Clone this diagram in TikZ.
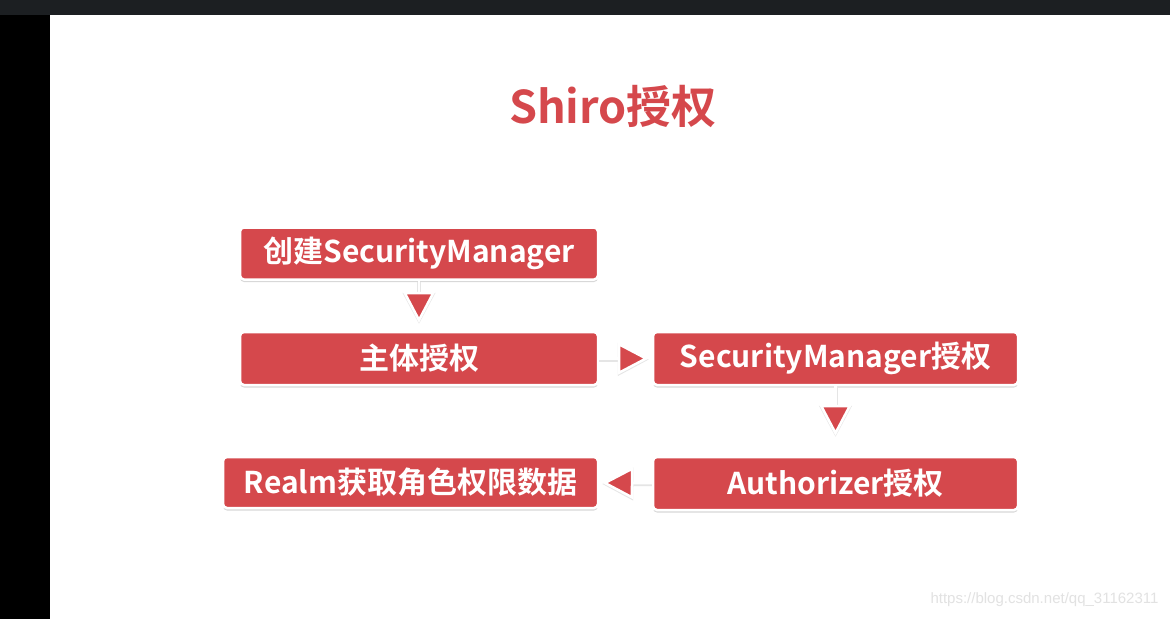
\documentclass[tikz,border=0pt]{standalone}
\usepackage{fontspec}
\setmainfont{Noto Sans CJK SC}[BoldFont={Noto Sans CJK SC Bold}]
\newfontfamily\wmfont{Liberation Sans}
\usepackage{tikz}
\usetikzlibrary{arrows.meta, shadows}
\definecolor{shiroRed}{HTML}{D5484C}
\definecolor{barDark}{HTML}{1C1F22}
\definecolor{wmGray}{HTML}{E2E2E2}
\tikzset{
  stepBox/.style={rectangle, rounded corners=4pt, draw=white, line width=2.5pt,
                  fill=shiroRed, text=white, align=center,
                  font=\bfseries\fontsize{30}{32}\selectfont, inner sep=0pt,
                  drop shadow={shadow xshift=0pt, shadow yshift=-2.5pt, opacity=0.25, fill=black!60}},
  flowArrow/.style={draw=white, line width=2.5pt, shorten >=#1,
                    -{Triangle[length=31pt, width=32pt, fill=shiroRed, line width=2.5pt]},
                    preaction={draw=black!10, line width=4pt, transform canvas={yshift=-1pt}, shorten >=#1,
                               -{Triangle[length=31pt, width=32pt, fill=black!12, line width=4pt]}}},
}
\begin{document}
\begin{tikzpicture}[x=1pt, y=-1pt]
    %% Rahmen: Bildschirm-Kanten
    \fill[white] (0,0) rectangle (1170,619);
    \fill[barDark] (0,0) rectangle (1170,15);
    \fill[black] (0,15) rectangle (50,619);
    \useasboundingbox (0,0) rectangle (1170,619);

    %% Titel
    \node[font=\bfseries\fontsize{45}{48}\selectfont, text=shiroRed] (titel) at (613,106) {Shiro授权};

    %% Schritte
    \node[stepBox, minimum width=358pt, minimum height=52pt] (erstellen) at (419,253.5) {创建SecurityManager};
    \node[stepBox, minimum width=358pt, minimum height=53pt] (subjekt) at (419,358.5) {主体授权};
    \node[stepBox, minimum width=365pt, minimum height=53pt] (manager) at (835.5,358.5) {SecurityManager授权};
    \node[stepBox, minimum width=365pt, minimum height=53pt] (autor) at (835.5,483.5) {Authorizer授权};
    \node[stepBox, minimum width=375pt, minimum height=51pt] (realm) at (410.5,482.5) {Realm获取角色权限数据};

    %% Ablauf
    \draw[flowArrow=8pt] (erstellen) -- (subjekt);
    \draw[flowArrow=3pt] (subjekt) -- (manager);
    \draw[flowArrow=20pt] (manager) -- (autor);
    \draw[flowArrow=3pt] (autor) -- (realm);

    %% Wasserzeichen
    \node[font=\wmfont\fontsize{15}{17}\selectfont, text=wmGray, anchor=east] (wm) at (1162,600) {https://blog.csdn.net/qq\_31162311};
\end{tikzpicture}
\end{document}
